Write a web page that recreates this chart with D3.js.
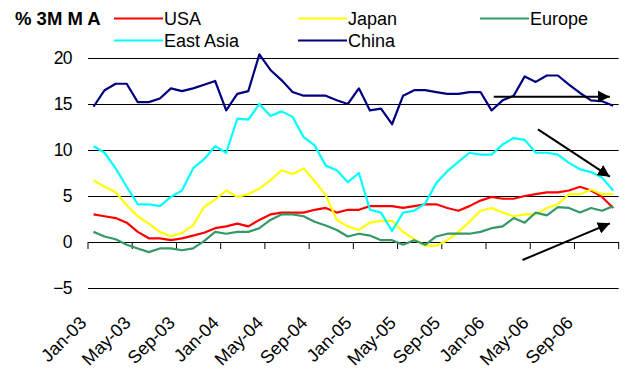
<!DOCTYPE html>
<html>
<head>
<meta charset="utf-8">
<script src="https://cdn.jsdelivr.net/npm/d3@7"></script>
<style>
  html, body { margin: 0; padding: 0; background: #fff; }
  svg { display: block; font-family: "Liberation Sans", Arial, sans-serif; }
</style>
</head>
<body>
<svg id="chart" width="628" height="374"></svg>
<script>
// Monthly categories, Jan-03 .. Dec-06
const months = [
  "Jan-03","Feb-03","Mar-03","Apr-03","May-03","Jun-03","Jul-03","Aug-03","Sep-03","Oct-03","Nov-03","Dec-03",
  "Jan-04","Feb-04","Mar-04","Apr-04","May-04","Jun-04","Jul-04","Aug-04","Sep-04","Oct-04","Nov-04","Dec-04",
  "Jan-05","Feb-05","Mar-05","Apr-05","May-05","Jun-05","Jul-05","Aug-05","Sep-05","Oct-05","Nov-05","Dec-05",
  "Jan-06","Feb-06","Mar-06","Apr-06","May-06","Jun-06","Jul-06","Aug-06","Sep-06","Oct-06","Nov-06","Dec-06"
];
const tickLabels = ["Jan-03","May-03","Sep-03","Jan-04","May-04","Sep-04","Jan-05","May-05","Sep-05","Jan-06","May-06","Sep-06"];
const yTicks = [-5, 0, 5, 10, 15, 20];

// % change, 3-month moving average
const usa = [3.0,2.8,2.6,2.1,1.1,0.4,0.4,0.2,0.4,0.7,1.0,1.5,
             1.7,2.0,1.7,2.4,3.0,3.2,3.2,3.2,3.5,3.7,3.2,3.5,
             3.5,3.9,3.9,3.9,3.7,3.9,4.1,4.1,3.7,3.4,3.9,4.5,
             4.9,4.7,4.7,5.0,5.2,5.4,5.4,5.6,6.0,5.6,4.9,3.7];
const japan = [6.7,6.0,5.4,4.0,2.8,2.0,1.1,0.6,1.0,1.8,3.8,4.6,
               5.6,4.9,5.2,5.8,6.7,7.8,7.4,8.0,6.6,5.1,2.4,1.7,
               1.3,2.1,2.3,2.3,1.1,0.3,-0.4,-0.4,0.2,1.1,2.2,3.4,
               3.7,3.2,2.8,3.0,3.0,3.7,4.1,5.2,5.2,5.7,5.2,5.2];
const europe = [1.1,0.6,0.3,-0.3,-0.7,-1.1,-0.7,-0.7,-0.9,-0.7,0.1,1.1,
                0.9,1.1,1.1,1.5,2.4,3.0,3.0,2.8,2.2,1.8,1.3,0.6,
                0.9,0.7,0.2,0.2,-0.3,0.2,-0.3,0.6,0.9,0.9,0.9,1.1,
                1.5,1.7,2.6,2.1,3.2,2.9,3.8,3.7,3.2,3.7,3.4,3.9];
const eastAsia = [10.4,9.7,8.0,6.0,4.1,4.1,3.9,4.9,5.6,8.0,9.0,10.4,
                  9.7,13.4,13.3,15.0,13.7,14.2,13.6,11.4,10.5,8.3,7.8,6.5,
                  7.5,3.5,3.2,1.2,3.2,3.4,4.2,6.4,7.7,8.7,9.7,9.5,
                  9.5,10.6,11.3,11.1,9.7,9.7,9.5,8.6,7.9,7.6,7.0,5.6];
const china = [14.7,16.5,17.2,17.2,15.2,15.2,15.6,16.7,16.4,16.7,17.1,17.5,
               14.3,16.1,16.4,20.4,18.7,17.6,16.3,15.9,15.9,15.9,15.4,15.0,
               16.7,14.3,14.5,12.8,15.9,16.5,16.5,16.3,16.1,16.1,16.3,16.3,
               14.3,15.4,15.9,18.0,17.4,18.1,18.1,17.1,16.2,15.4,15.3,14.8];

const seriesNames = ["USA","Japan","Europe","East Asia","China"];
const seriesValues = [usa, japan, europe, eastAsia, china];
const seriesColors = ["#ff0000","#ffff00","#339966","#00ffff","#000080"];

// Trend arrows: [fromMonth, fromValue, toMonth, toValue]
const trendArrows = [
  [36.2, 15.8, 46.7, 15.8],
  [40.2, 12.25, 46.7, 7.1],
  [38.8, -1.96, 46.7, 2.03]
];

const svg = d3.select("#chart");
const plotLeft = 88, plotRight = 618.7, plotTop = 58, plotBottom = 288;

const xBand = d3.scaleBand().domain(months).range([plotLeft, plotRight]);
const x = d3.scalePoint().domain(months).range([plotLeft, plotRight]).padding(0.5);
const xIdx = d3.scaleLinear().domain([0, months.length - 1]).range([x(months[0]), x(months[months.length - 1])]);
const y = d3.scaleLinear().domain([-5, 20]).range([plotBottom, plotTop]);

svg.append("rect").attr("width", 628).attr("height", 374).attr("fill", "#fff");

// Horizontal gridlines + value labels
const yAxis = svg.append("g")
  .attr("transform", `translate(${plotLeft},0)`)
  .call(d3.axisLeft(y).tickValues(yTicks).tickSize(-(plotRight - plotLeft)).tickPadding(16).tickFormat(d3.format("d")));
yAxis.select(".domain").remove();
yAxis.selectAll(".tick line").attr("stroke", "#000").attr("stroke-width", 1);
yAxis.selectAll(".tick text")
  .attr("font-size", 17.5).attr("fill", "#000")
  .attr("font-family", "Liberation Sans, Arial, sans-serif")
  .attr("letter-spacing", "-0.6");

// Category tick marks on the zero line, every 4 months
const tickPos = d3.range(0, months.length, 4).map(i => xBand(months[i])).concat([plotRight]);
svg.append("g").selectAll("line").data(tickPos).join("line")
  .attr("x1", d => d).attr("x2", d => d)
  .attr("y1", y(0)).attr("y2", y(0) + 7)
  .attr("stroke", "#000").attr("stroke-width", 1);

// Rotated month labels
svg.append("g").selectAll("text").data(tickLabels).join("text")
  .attr("transform", d => `translate(${x(d) - 6},${plotBottom + 36}) rotate(-45)`)
  .attr("text-anchor", "end")
  .attr("font-size", 18)
  .attr("fill", "#000")
  .text(d => d);

// Series lines
const line = d3.line().x((d, i) => x(months[i])).y(d => y(d));
svg.append("g").selectAll("path").data(seriesValues).join("path")
  .attr("d", d => line(d))
  .attr("fill", "none")
  .attr("stroke", (d, i) => seriesColors[i])
  .attr("stroke-width", 2.2)
  .attr("stroke-linejoin", "round");

// Arrowhead marker
svg.append("defs").append("marker")
  .attr("id", "arrowhead")
  .attr("viewBox", "0 0 10 10")
  .attr("refX", 10).attr("refY", 5)
  .attr("markerWidth", 12).attr("markerHeight", 12)
  .attr("markerUnits", "userSpaceOnUse")
  .attr("orient", "auto")
  .append("path").attr("d", "M0,0 L10,5 L0,10 Z").attr("fill", "#000");

svg.append("g").selectAll("line").data(trendArrows).join("line")
  .attr("x1", d => xIdx(d[0])).attr("y1", d => y(d[1]))
  .attr("x2", d => xIdx(d[2])).attr("y2", d => y(d[3]))
  .attr("stroke", "#000").attr("stroke-width", 2)
  .attr("marker-end", "url(#arrowhead)");

// Heading and legend
svg.append("text").attr("x", 15).attr("y", 18.5).attr("dy", "0.36em")
  .attr("font-size", 18.5).attr("font-weight", "bold").attr("fill", "#000")
  .text("% 3M M A");

const legendPos = [[114, 18.5], [298, 18.5], [480, 18.5], [114, 40.5], [298, 40.5]];
const legend = svg.append("g").selectAll("g").data(seriesNames).join("g")
  .attr("transform", (d, i) => `translate(${legendPos[i][0]},${legendPos[i][1]})`);
legend.append("line").attr("x1", 0).attr("x2", 49).attr("y1", 0).attr("y2", 0)
  .attr("stroke", (d, i) => seriesColors[i]).attr("stroke-width", 2.2);
legend.append("text").attr("x", 50).attr("dy", "0.36em")
  .attr("font-size", 18).attr("fill", "#000")
  .text(d => d);
</script>
</body>
</html>
